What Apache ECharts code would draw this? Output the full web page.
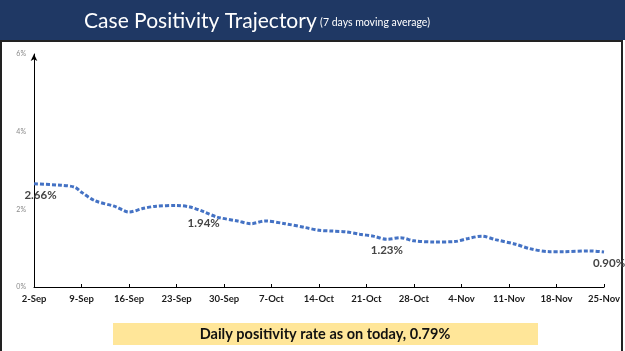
<!DOCTYPE html>
<html>
<head>
<meta charset="utf-8">
<script src="https://cdn.jsdelivr.net/npm/echarts@6/dist/echarts.min.js"></script>
<style>
  html, body { margin: 0; padding: 0; background: #fff; }
  #chart { width: 625px; height: 351px; }
</style>
</head>
<body>
<div id="chart"></div>
<script>
  // x axis: days since 2-Sep, one tick per week
  var tickLabels = ['2-Sep', '9-Sep', '16-Sep', '23-Sep', '30-Sep', '7-Oct', '14-Oct',
    '21-Oct', '28-Oct', '4-Nov', '11-Nov', '18-Nov', '25-Nov'];
  var days = [0, 4, 6, 7, 9, 12, 14, 16, 18, 21, 23, 25, 27, 30, 32, 34, 37, 40, 42,
    44, 46, 48, 50, 52, 54, 56, 59, 62, 64, 66, 68, 71, 73, 76, 78, 82, 84];
  // 7 days moving average, %
  var positivity = [2.66, 2.62, 2.57, 2.44, 2.22, 2.07, 1.93, 2.02, 2.08, 2.10, 2.06, 1.94, 1.80,
    1.70, 1.63, 1.70, 1.63, 1.53, 1.46, 1.44, 1.42, 1.36, 1.31, 1.23, 1.27, 1.19, 1.16,
    1.17, 1.25, 1.31, 1.22, 1.10, 0.99, 0.91, 0.91, 0.93, 0.90];
  var labelledDays = [0, 25, 52, 84];
  var yTicks = [0, 2, 4, 6];

  var chart = echarts.init(document.getElementById('chart'));

  var seriesData = days.map(function(d, i) {
    var item = {value: [d, positivity[i]]};
    if (labelledDays.indexOf(d) >= 0) {
      item.label = {
        show: true,
        // first and last labels sit a little right of their point
        padding: d === 0 ? [0, 0, 0, 13] : d === 84 ? [0, 0, 0, 10] : 0
      };
    }
    return item;
  });

  chart.setOption({
    backgroundColor: '#fff',
    animation: false,
    grid: {left: 34, right: 21, top: 54, bottom: 64},
    xAxis: {
      type: 'value',
      min: 0,
      max: 84,
      interval: 7,
      axisLine: {lineStyle: {color: '#000', width: 1}},
      axisTick: {show: true, inside: true, length: 3, lineStyle: {color: '#000'}},
      splitLine: {show: false},
      axisLabel: {
        margin: 7,
        fontFamily: 'Lato',
        fontWeight: 'bold',
        fontSize: 9.5,
        color: '#1a1a1a',
        formatter: function(v) { return tickLabels[Math.round(v / 7)]; }
      }
    },
    yAxis: {
      type: 'value',
      min: yTicks[0],
      max: yTicks[yTicks.length - 1],
      interval: 2,
      axisLine: {show: true, symbol: ['none', 'arrow'], symbolSize: [5, 7], lineStyle: {color: '#000', width: 1}},
      axisTick: {show: false},
      splitLine: {show: false},
      axisLabel: {
        margin: 8,
        fontFamily: 'Lato',
        fontSize: 7,
        color: '#8a8a8a',
        formatter: '{value}%'
      }
    },
    series: [{
      type: 'line',
      smooth: 0.3,
      symbol: 'circle',
      symbolSize: 1,
      showSymbol: true,
      itemStyle: {color: 'rgba(68,114,196,0)'},
      lineStyle: {color: '#4472c4', width: 3, type: [4, 2]},
      label: {
        show: false,
        position: 'bottom',
        distance: 5,
        fontFamily: 'Lato',
        fontWeight: 'bold',
        fontSize: 11.5,
        color: '#444',
        formatter: function(p) { return p.value[1].toFixed(2) + '%'; }
      },
      labelLayout: {hideOverlap: false},
      data: seriesData
    }],
    graphic: [
      {type: 'rect', shape: {x: 0, y: 0, width: 625, height: 40}, style: {fill: '#1f3864'}},
      {
        type: 'text', x: 257, y: 21,
        style: {
          text: '{a|Case Positivity Trajectory} {b|(7 days moving average)}',
          align: 'center', verticalAlign: 'middle',
          rich: {
            a: {fontFamily: 'Lato', fontSize: 21, fill: '#fff', color: '#fff', verticalAlign: 'bottom'},
            b: {fontFamily: 'Lato', fontSize: 10.5, fill: '#fff', color: '#fff', verticalAlign: 'bottom', padding: [0, 0, 3, 0]}
          }
        }
      },
      {type: 'rect', shape: {x: 1, y: 41, width: 621, height: 320}, style: {fill: 'none', stroke: '#222', lineWidth: 2}},
      {type: 'rect', shape: {x: 113, y: 323, width: 425, height: 22}, style: {fill: '#ffe699'}},
      {
        type: 'text', x: 325, y: 334,
        style: {
          text: 'Daily positivity rate as on today, 0.79%',
          align: 'center', verticalAlign: 'middle',
          fontFamily: 'Lato', fontWeight: 'bold', fontSize: 14.5, fill: '#111'
        }
      }
    ]
  });
</script>
</body>
</html>
